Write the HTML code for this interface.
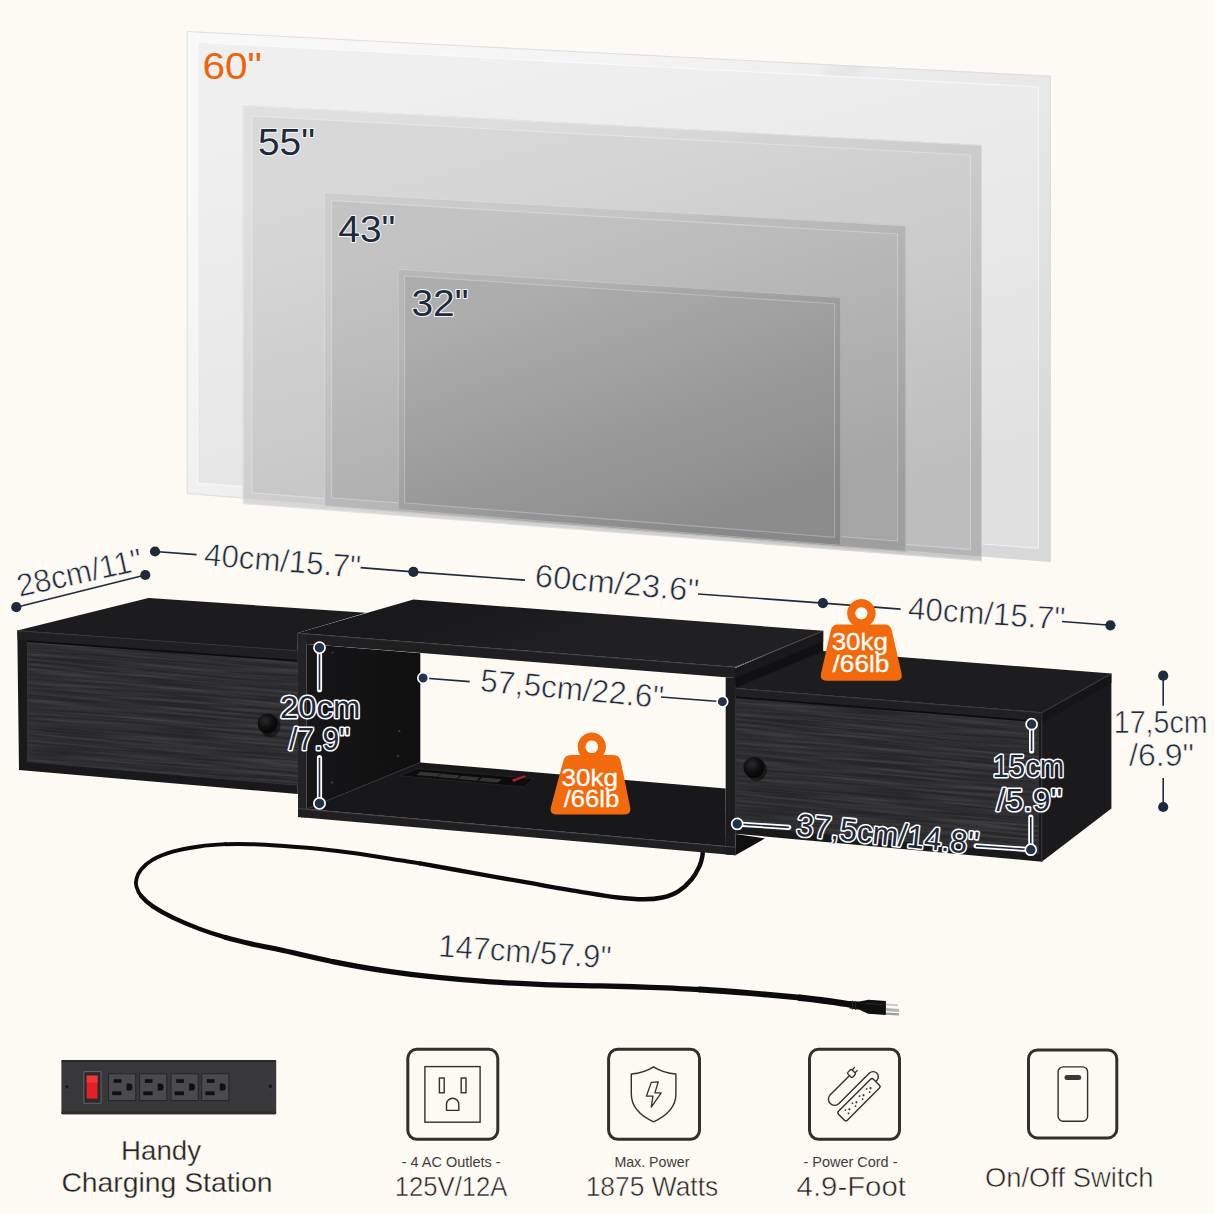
<!DOCTYPE html>
<html>
<head>
<meta charset="utf-8">
<title>TV stand dimensions</title>
<style>
html,body{margin:0;padding:0;background:#fdf9f3;}
body{width:1214px;height:1214px;overflow:hidden;font-family:"Liberation Sans",sans-serif;}
svg{display:block;}
text{font-family:"Liberation Sans",sans-serif;}
.dim{fill:#1e2b3c;font-size:32px;stroke:#fdf9f3;stroke-width:0.6px;}
.dimo{fill:#1e2b3c;font-size:32px;stroke:#fff;stroke-width:3.1px;paint-order:stroke;stroke-linejoin:round;}
.ln{stroke:#1e2b3c;stroke-width:1.6;fill:none;}
.dot{fill:#1e2b3c;}
.lno{stroke:#fff;stroke-width:5.2;fill:none;stroke-linecap:round;}
.doto{fill:#22324a;stroke:#fff;stroke-width:1.7;}
.ic{fill:none;stroke:#32302e;}
.cap{fill:#3f3d3a;font-size:15px;}
.big{fill:#262422;font-size:28.5px;stroke:#fdf9f3;stroke-width:0.55px;}
</style>
</head>
<body>
<svg width="1214" height="1214" viewBox="0 0 1214 1214">
<defs>
  <linearGradient id="g60" gradientUnits="userSpaceOnUse" x1="560" y1="50" x2="680" y2="540">
    <stop offset="0" stop-color="#efefef"/><stop offset="0.5" stop-color="#e9e9e9"/><stop offset="1" stop-color="#e0e0e0"/>
  </linearGradient>
  <linearGradient id="g55" gradientUnits="userSpaceOnUse" x1="560" y1="120" x2="680" y2="550">
    <stop offset="0" stop-color="#d8d8d8"/><stop offset="0.5" stop-color="#cbcbcb"/><stop offset="1" stop-color="#bdbdbd"/>
  </linearGradient>
  <linearGradient id="g43" gradientUnits="userSpaceOnUse" x1="560" y1="205" x2="670" y2="545">
    <stop offset="0" stop-color="#c3c3c3"/><stop offset="0.5" stop-color="#b4b4b4"/><stop offset="1" stop-color="#a5a5a5"/>
  </linearGradient>
  <linearGradient id="g32" gradientUnits="userSpaceOnUse" x1="570" y1="280" x2="660" y2="540">
    <stop offset="0" stop-color="#adadad"/><stop offset="0.5" stop-color="#9c9c9c"/><stop offset="1" stop-color="#8c8c8c"/>
  </linearGradient>
  <linearGradient id="gbz" gradientUnits="userSpaceOnUse" x1="250" y1="60" x2="980" y2="540">
    <stop offset="0" stop-color="#fff" stop-opacity="0.6"/><stop offset="0.55" stop-color="#fff" stop-opacity="0.12"/><stop offset="0.6" stop-color="#000" stop-opacity="0"/><stop offset="1" stop-color="#000" stop-opacity="0.035"/>
  </linearGradient>
  <linearGradient id="gbz2" gradientUnits="userSpaceOnUse" x1="300" y1="120" x2="950" y2="540">
    <stop offset="0" stop-color="#fff" stop-opacity="0.2"/><stop offset="0.5" stop-color="#fff" stop-opacity="0.03"/><stop offset="0.55" stop-color="#000" stop-opacity="0"/><stop offset="1" stop-color="#000" stop-opacity="0.05"/>
  </linearGradient>
  <clipPath id="c60"><polygon points="186.7,31 1050.8,75.8 1050.8,561.9 186.7,494"/></clipPath>
</defs>
<rect width="1214" height="1214" fill="#fdf9f3"/>

<!-- TVs -->
<g id="tvs">
  <polygon points="186.7,31 1050.8,75.8 1050.8,561.9 186.7,494" fill="url(#g60)"/>
  <path d="M186.7,31 L1050.8,75.8 L1050.8,561.9 L186.7,494 Z M198,42.5 L1038.4,87 L1038.4,548.3 L197.6,482.9 Z" fill="url(#gbz)" fill-rule="evenodd"/>
  <polygon points="198,42.5 1038.4,87 1038.4,548.3 197.6,482.9" fill="none" stroke="#fff" stroke-opacity="0.6" stroke-width="1.1"/>
  <polygon points="187.2,31.5 1050.3,76.3 1050.3,561.3 187.2,493.5" fill="none" stroke="#d9d9d9" stroke-opacity="0.8" stroke-width="1"/>

  <polygon points="242.8,105.1 982,145 982,561.2 242.8,503.9" fill="#d3d3d1"/>
  <g clip-path="url(#c60)">
    <polygon points="242.8,105.1 982,145 982,561.2 242.8,503.9" fill="url(#g55)"/>
  </g>
  <path d="M242.8,105.1 L982,145 L982,561.2 L242.8,503.9 Z M252,116 L970.5,155 L970.5,549.6 L252,492.7 Z" fill="url(#gbz2)" fill-rule="evenodd"/>
  <polygon points="252,116 970.5,155 970.5,549.6 252,492.7" fill="none" stroke="#fff" stroke-opacity="0.3" stroke-width="1.1"/>
  <polygon points="243.3,105.6 981.5,145.5 981.5,560.6 243.3,503.4" fill="none" stroke="#fff" stroke-opacity="0.3" stroke-width="1"/>

  <polygon points="324,192.1 906.3,225.3 906.3,552 324,506.3" fill="url(#g43)"/>
  <path d="M324,192.1 L906.3,225.3 L906.3,552 L324,506.3 Z M331.7,200.6 L897.6,234 L897.6,541 L331.7,497.7 Z" fill="url(#gbz2)" fill-rule="evenodd"/>
  <polygon points="331.7,200.6 897.6,234 897.6,541 331.7,497.7" fill="none" stroke="#fff" stroke-opacity="0.28" stroke-width="1.1"/>
  <polygon points="324.5,192.6 905.8,225.8 905.8,551.4 324.5,505.8" fill="none" stroke="#fff" stroke-opacity="0.3" stroke-width="1"/>

  <polygon points="397.7,268.7 841.2,297 841.2,545.9 397.7,510" fill="url(#g32)"/>
  <path d="M397.7,268.7 L841.2,297 L841.2,545.9 L397.7,510 Z M404.6,276 L834.6,303.8 L834.6,537.3 L404.6,502.8 Z" fill="url(#gbz2)" fill-rule="evenodd"/>
  <polygon points="404.6,276 834.6,303.8 834.6,537.3 404.6,502.8" fill="none" stroke="#fff" stroke-opacity="0.25" stroke-width="1.1"/>
  <polygon points="398.2,269.2 840.7,297.5 840.7,545.3 398.2,509.5" fill="none" stroke="#fff" stroke-opacity="0.28" stroke-width="1"/>
</g>
<g id="tvlabels" font-size="36.5px">
  <text x="202.5" y="79" fill="#ea650d" textLength="59.5" lengthAdjust="spacingAndGlyphs">60"</text>
  <text x="258" y="154.5" fill="#1e2b3c" stroke="#f6f6f6" stroke-width="2" paint-order="stroke" stroke-linejoin="round" textLength="57" lengthAdjust="spacingAndGlyphs">55"</text>
  <text x="338.3" y="241.6" fill="#1e2b3c" stroke="#f6f6f6" stroke-width="2" paint-order="stroke" stroke-linejoin="round" textLength="57" lengthAdjust="spacingAndGlyphs">43"</text>
  <text x="411.5" y="316" fill="#1e2b3c" stroke="#f6f6f6" stroke-width="2" paint-order="stroke" stroke-linejoin="round" textLength="57" lengthAdjust="spacingAndGlyphs">32"</text>
</g>

<!--CORD_START-->
<g id="cord" fill="none" stroke="#0b0b0c" stroke-linecap="round" stroke-linejoin="round">
  <path d="M702.8,848.0 C702.7,849.3 703.0,852.9 702.4,856.0 C701.8,859.1 701.2,862.5 699.4,866.4 C697.6,870.3 695.0,875.3 691.5,879.5 C688.0,883.7 683.1,888.4 678.3,891.4 C673.5,894.4 668.2,896.2 662.5,897.5 C656.8,898.8 651.5,899.3 644.0,899.3 C636.5,899.3 628.7,898.8 617.7,897.5 C606.7,896.2 593.5,893.9 578.1,891.4 C562.7,888.9 543.0,885.3 525.4,882.2 C507.8,879.1 490.3,876.0 472.7,872.9 C455.1,869.8 432.1,865.5 420.0,863.4" stroke-width="4.4"/>
  <path d="M420.0,863.4 C407.9,861.3 410.5,861.9 400.0,860.3 C389.5,858.7 370.3,855.5 357.0,853.6 C343.7,851.7 332.8,850.3 320.0,849.0 C307.2,847.7 291.4,846.6 280.0,845.8 C268.6,845.0 260.9,844.5 251.8,844.2 C242.7,843.9 234.2,843.8 225.4,844.2" stroke-width="4.0"/>
  <path d="M225.4,844.2 C216.6,844.6 207.9,845.2 199.1,846.5 C190.3,847.8 180.4,849.5 172.7,851.7 C165.0,853.9 158.2,856.7 152.9,859.7 C147.6,862.7 143.8,866.3 141.1,869.5 C138.4,872.7 137.3,875.9 136.5,878.8 C135.7,881.7 135.7,883.9 136.5,886.7 C137.3,889.6 138.4,892.6 141.1,895.9" stroke-width="3.8"/>
  <path d="M141.1,895.9 C143.8,899.2 147.6,902.8 152.9,906.4 C158.2,910.0 165.0,913.9 172.7,917.6 C180.4,921.3 190.3,925.5 199.1,928.8 C207.9,932.1 216.6,934.9 225.4,937.4" stroke-width="4.4"/>
  <path d="M225.4,937.4 C234.2,939.9 242.7,941.9 251.8,944.0 C260.9,946.1 266.5,946.9 280.0,949.8 C293.5,952.7 315.1,958.1 332.7,961.6" stroke-width="5.0"/>
  <path d="M332.7,961.6 C350.3,965.1 367.8,968.3 385.4,970.9 C403.0,973.5 420.5,975.6 438.1,977.4 C455.7,979.2 473.3,980.7 490.9,981.9 C508.5,983.1 525.4,983.9 543.6,984.6 C561.8,985.3 582.3,985.5 600.0,985.9 C617.7,986.3 633.3,986.7 650.0,987.3 C666.7,987.9 683.3,988.5 700.0,989.5" stroke-width="5.3"/>
  <path d="M700.0,989.5 C716.7,990.5 733.3,991.8 750.0,993.2 C766.7,994.6 787.2,996.4 800.0,997.7" stroke-width="5.8"/>
  <path d="M800.0,997.7 C812.8,999.0 818.5,999.9 827.0,1001.0 C835.5,1002.1 847.0,1004.0 851.0,1004.6" stroke-width="6.4"/>
  <!-- plug -->
  <path d="M849.7,1000.9 L859.5,1001.6 L868.5,999.8 L885.9,1001 L885.9,1015 L868,1013.8 L859.5,1009.8 L849.7,1008.4 Z" fill="#0f0f10" stroke="none"/>
  <path d="M852.5,1001 L852.5,1009.2 M855.5,1001.3 L855.5,1009.7" stroke="#2c2c2e" stroke-width="0.8"/>
  <path d="M866,1003.5 L884,1004.5" stroke="#2a2a2c" stroke-width="1.2"/>
  <path d="M886,1004.4 L898,1005.4" stroke="#c4c4c6" stroke-width="1.8" stroke-linecap="butt"/>
  <path d="M886,1009.6 L899,1010.6" stroke="#b4b4b6" stroke-width="3" stroke-linecap="butt"/>
  <path d="M886,1013.6 L899,1014.4" stroke="#9c9c9e" stroke-width="2.4" stroke-linecap="butt"/>
</g>
<!--CORD_END-->
<!--FURNITURE_START-->
<defs>
  <filter id="grain" x="0" y="0" width="100%" height="100%">
    <feTurbulence type="fractalNoise" baseFrequency="0.01 0.42" numOctaves="2" seed="7" result="n"/>
    <feColorMatrix in="n" type="matrix" values="0 0 0 0 0.07  0 0 0 0 0.07  0 0 0 0 0.08  1.5 0 0 0 -0.5"/>
    <feComposite in2="SourceGraphic" operator="in"/>
  </filter>
  <linearGradient id="gtop" x1="0" y1="0" x2="1" y2="0">
    <stop offset="0" stop-color="#1d1d1f"/><stop offset="1" stop-color="#19191b"/>
  </linearGradient>
  <clipPath id="cdl"><polygon points="27.5,641.3 297.8,661 297.8,785.3 27.7,761.6"/></clipPath><clipPath id="cdr"><polygon points="736,697.2 1038.5,721.6 1038.5,853.6 736,825.5"/></clipPath>
  <linearGradient id="gwall" x1="0" y1="0" x2="1" y2="0"><stop offset="0" stop-color="#161618"/><stop offset="1" stop-color="#0f0f10"/></linearGradient>
  <linearGradient id="gmt" gradientUnits="userSpaceOnUse" x1="500" y1="600" x2="520" y2="660"><stop offset="0" stop-color="#19191b"/><stop offset="1" stop-color="#202022"/></linearGradient>
  <radialGradient id="knob" cx="0.4" cy="0.35" r="0.7">
    <stop offset="0" stop-color="#2a2a2c"/><stop offset="0.6" stop-color="#0c0c0d"/><stop offset="1" stop-color="#050506"/>
  </radialGradient>
</defs>
<g id="furniture">
  <!-- LEFT CABINET -->
  <polygon points="17.3,630.5 148.5,598 366,612.8 297.8,633 297.8,651" fill="#1c1c1e"/>
  <polygon points="17.3,630.5 297.8,650.4 297.8,794 19,770" fill="#19191b"/>
  <polygon points="17.3,630.5 297.8,650.4 297.8,659.6 17.6,639.4" fill="#202022"/>
  <polygon points="27.5,641.3 297.8,661 297.8,785.3 27.7,761.6" fill="#262628"/>
  <g clip-path="url(#cdl)"><rect x="0" y="0" width="280" height="160" transform="matrix(1,0.08,0,1,24,625)" fill="#fff" filter="url(#grain)"/></g>
  <polyline points="17.3,630.8 297.8,650.7" fill="none" stroke="#3a3a3c" stroke-width="0.9"/>
  <polyline points="27.5,641.3 27.7,761.6 297.8,785.3" fill="none" stroke="#38383a" stroke-width="0.8"/>
  <polyline points="27.5,641.3 297.8,661" fill="none" stroke="#0c0c0d" stroke-width="1.6"/>
  <ellipse cx="270" cy="726" rx="10.5" ry="11" fill="#0a0a0b" opacity="0.6"/>
  <circle cx="267.5" cy="723.5" r="10" fill="url(#knob)"/>

  <!-- RIGHT CABINET -->
  <polygon points="735.2,688.1 823.2,651 1111.4,673.6 1041.8,712.4" fill="#1d1d1f"/>
  <polygon points="1041.8,712.4 1111.4,673.6 1111.4,808.4 1041.8,861.7" fill="#1a1a1c"/>
  <polygon points="735.2,688.1 1041.8,712.4 1041.8,861.7 735.2,833.7" fill="#19191b"/>
  <polygon points="735.2,688.1 1041.8,712.4 1041.8,721.2 735.2,696.6" fill="#202022"/>
  <polygon points="736,697.2 1038.5,721.6 1038.5,853.6 736,825.5" fill="#262628"/>
  <g clip-path="url(#cdr)"><rect x="0" y="0" width="310" height="170" transform="matrix(1,0.085,0,1,732,685)" fill="#fff" filter="url(#grain)"/></g>
  <polygon points="1041.8,712.4 1111.4,673.6 1111.4,683 1041.8,722.8" fill="#151517"/>
  <polyline points="735.2,688.4 1041.8,712.7 1111.4,673.9" fill="none" stroke="#3d3d3f" stroke-width="0.9"/>
  <polyline points="1041.8,712.4 1041.8,861.7" fill="none" stroke="#333335" stroke-width="1"/>
  <polyline points="1038.5,721.6 1038.5,853.6 736,825.5" fill="none" stroke="#343436" stroke-width="0.8"/>
  <polyline points="736,697.2 1034,721.2" fill="none" stroke="#0c0c0d" stroke-width="1.6"/>
  <ellipse cx="756.5" cy="770" rx="10.5" ry="11" fill="#0a0a0b" opacity="0.6"/>
  <circle cx="754" cy="767.5" r="10.5" fill="url(#knob)"/>

  <!-- MID SECTION -->
  <polygon points="734.2,668.7 823.2,630.8 823.2,651.5 735.2,688.5" fill="#111113"/>
  <polygon points="734.2,668.7 823.2,630.8 823.2,641.6 735.2,678" fill="#19191b"/>
  <polygon points="735.5,834 765,838.4 735.5,855.2" fill="#0f0f10"/>
  <!-- top surface -->
  <polygon points="297.8,633 413.4,599.5 823.2,630.8 735.2,667" fill="url(#gmt)"/>
  <!-- interior left wall -->
  <polygon points="306.7,644 420.3,653.3 420.3,762.4 306.7,809" fill="url(#gwall)"/>
  <!-- shelf -->
  <polygon points="306.7,809 420.3,762.4 725.6,788.5 725.9,846.2" fill="#18181a"/>
  <!-- shelf power strip -->
  <polygon points="399.3,775.8 417.5,768.7 534.2,778.6 523.8,786.9" fill="#0c0c0d" stroke="#2b2b2d" stroke-width="0.7"/>
  <polygon points="420.5,771.8 441,773.5 437,776.8 416.5,775" fill="#353537"/>
  <polygon points="441.5,773.8 460,775.4 456.5,778.8 437.5,777.1" fill="#353537"/>
  <polygon points="461.5,775.8 480,777.4 476.5,780.8 457.5,779.1" fill="#353537"/>
  <polygon points="482,777.5 501.5,779.2 498,782.6 478.5,780.9" fill="#353537"/>
  <polygon points="512,779.8 524.5,775.2 526,776.8 513.5,782" fill="#b3202a"/>
  <!-- screws on wall -->
  <circle cx="332.5" cy="652.5" r="1.1" fill="#3a3a3c"/><circle cx="399.3" cy="731" r="1.2" fill="#3a3a3c"/>
  <circle cx="332" cy="782.5" r="1.2" fill="#3a3a3c"/><circle cx="398" cy="756" r="1.2" fill="#3a3a3c"/>
  <!-- front frame: top slab, left panel, bottom slab, right panel -->
  <polygon points="297.8,633 735.2,667 735.2,678 297.8,643.2" fill="#1f1f21"/>
  <polygon points="298,633 306.7,633.7 306.7,817.6 298,816.9" fill="#232325"/>
  <polygon points="298,808.3 306.7,809 725.9,846.2 735.5,847 735.5,855.2 298,816.9" fill="#202022"/>
  <polygon points="725.7,677.2 735.5,678 735.5,855.2 725.7,854.4" fill="#1c1c1e"/>
  <polyline points="297.8,633.3 735.2,667.3 823.2,631.1" fill="none" stroke="#414143" stroke-width="0.9"/>
  <polyline points="298,808.6 735.5,847.3" fill="none" stroke="#48484a" stroke-width="0.9"/>
  <polyline points="306.7,809 420.3,762.4" fill="none" stroke="#303032" stroke-width="0.9"/>
  
</g>
<!--FURNITURE_END-->

<!--DIMS_START-->
<g id="dims">
<line class="ln" x1="16.3" y1="607.2" x2="145.3" y2="575.0"/>
<circle class="dot" cx="16.3" cy="607.2" r="5.1"/>
<circle class="dot" cx="145.3" cy="575.0" r="5.1"/>
<text class="dim" font-size="32px" transform="translate(19.5,596.9) rotate(-12.38)" textLength="127.4" lengthAdjust="spacingAndGlyphs">28cm/11&quot;</text>
<line class="ln" x1="155.0" y1="551.5" x2="196.5" y2="554.6"/>
<line class="ln" x1="360.6" y1="567.6" x2="413.4" y2="571.9"/>
<circle class="dot" cx="155.0" cy="551.5" r="5.1"/>
<circle class="dot" cx="413.4" cy="571.9" r="5.1"/>
<text class="dim" font-size="30px" transform="translate(203.5,565.3) rotate(4.57)" textLength="156.9" lengthAdjust="spacingAndGlyphs">40cm/15.7&quot;</text>
<line class="ln" x1="413.4" y1="571.9" x2="525.0" y2="580.1"/>
<line class="ln" x1="698.0" y1="594.0" x2="822.9" y2="603.1"/>
<circle class="dot" cx="822.9" cy="603.1" r="5.1"/>
<text class="dim" font-size="30px" transform="translate(534.1,586.3) rotate(5.30)" textLength="164.5" lengthAdjust="spacingAndGlyphs">60cm/23.6&quot;</text>
<line class="ln" x1="822.9" y1="603.1" x2="900.6" y2="609.1"/>
<line class="ln" x1="1061.9" y1="621.5" x2="1110.4" y2="625.3"/>
<circle class="dot" cx="1110.4" cy="625.3" r="5.1"/>
<text class="dim" font-size="30px" transform="translate(907.4,619.0) rotate(3.86)" textLength="157.3" lengthAdjust="spacingAndGlyphs">40cm/15.7&quot;</text>
<text class="dim" font-size="30px" transform="translate(437.7,956.5) rotate(3.97)" textLength="173.2" lengthAdjust="spacingAndGlyphs">147cm/57.9&quot;</text>
<line class="ln" x1="1163.2" y1="675.7" x2="1163.2" y2="705.7"/>
<line class="ln" x1="1163.2" y1="778.0" x2="1163.2" y2="807.0"/>
<circle class="dot" cx="1163.2" cy="675.7" r="5.1"/>
<circle class="dot" cx="1163.2" cy="807.0" r="5.1"/>
<text class="dim" font-size="30px" transform="translate(1113.8,733.0) rotate(0.00)" textLength="93.8" lengthAdjust="spacingAndGlyphs">17,5cm</text>
<text class="dim" font-size="30px" transform="translate(1129.1,766.1) rotate(0.00)" textLength="64.8" lengthAdjust="spacingAndGlyphs">/6.9&quot;</text>
<line class="ln" x1="423.1" y1="678.0" x2="469.7" y2="681.6"/>
<line class="ln" x1="661.0" y1="697.0" x2="722.4" y2="701.7"/>
<circle class="doto" cx="423.1" cy="678.0" r="5.3"/>
<circle class="doto" cx="722.4" cy="701.7" r="5.3"/>
<text class="dim" font-size="31px" transform="translate(479.5,691.0) rotate(5.37)" textLength="183.8" lengthAdjust="spacingAndGlyphs">57,5cm/22.6&quot;</text>
<line class="lno" x1="319.5" y1="654.0" x2="319.5" y2="689.7"/>
<line class="ln" x1="319.5" y1="654.0" x2="319.5" y2="689.7"/>
<line class="lno" x1="319.5" y1="757.7" x2="319.5" y2="798.4"/>
<line class="ln" x1="319.5" y1="757.7" x2="319.5" y2="798.4"/>
<circle class="doto" cx="319.5" cy="647.7" r="5.6"/>
<circle class="doto" cx="319.5" cy="803.4" r="5.6"/>
<text class="dimo" font-size="32px" transform="translate(280.0,717.5) rotate(0.00)" textLength="80.5" lengthAdjust="spacingAndGlyphs">20cm</text>
<text class="dimo" font-size="32px" transform="translate(289.0,750.0) rotate(0.00)" textLength="61.0" lengthAdjust="spacingAndGlyphs">/7.9&quot;</text>
<line class="lno" x1="1031.6" y1="730.0" x2="1031.6" y2="751.0"/>
<line class="ln" x1="1031.6" y1="730.0" x2="1031.6" y2="751.0"/>
<line class="lno" x1="1030.8" y1="817.0" x2="1030.8" y2="845.0"/>
<line class="ln" x1="1030.8" y1="817.0" x2="1030.8" y2="845.0"/>
<text class="dimo" font-size="31px" transform="translate(992.5,777.4) rotate(0.00)" textLength="71.8" lengthAdjust="spacingAndGlyphs">15cm</text>
<text class="dimo" font-size="31px" transform="translate(996.5,810.5) rotate(0.00)" textLength="65.7" lengthAdjust="spacingAndGlyphs">/5.9&quot;</text>
<line class="lno" x1="742.0" y1="824.3" x2="788.8" y2="827.4"/>
<line class="ln" x1="742.0" y1="824.3" x2="788.8" y2="827.4"/>
<line class="lno" x1="976.0" y1="845.9" x2="1026.0" y2="849.3"/>
<line class="ln" x1="976.0" y1="845.9" x2="1026.0" y2="849.3"/>
<circle class="doto" cx="737.2" cy="823.9" r="5.5"/>
<circle class="doto" cx="1030.8" cy="849.7" r="5.5"/>
<circle class="doto" cx="1031.6" cy="724.2" r="5.5"/>
<text class="dimo" font-size="31px" transform="translate(795.6,835.4) rotate(6.00)" textLength="182.8" lengthAdjust="spacingAndGlyphs">37,5cm/14.8&quot;</text>
</g>
<g id="weights">
  <!-- weight 1 (shelf) -->
  <g>
    <path d="M591.8,732.6 a14.2,14.2 0 1 1 -0.01,0 Z M591.8,740.5 a6.3,6.3 0 1 0 0.01,0 Z" fill="#f26a0b" fill-rule="evenodd"/>
    <path d="M571,755 L613,755 Q619.5,755 620.7,761 L630.2,807.5 Q631.5,814.5 624,814.5 L557,814.5 Q549.5,814.5 550.8,807.5 L563.3,761 Q564.5,755 571,755 Z" fill="#f26a0b"/>
    <text x="561.5" y="786" font-size="24px" fill="#fff" stroke="#fff" stroke-width="0.3" textLength="56.5" lengthAdjust="spacingAndGlyphs">30kg</text>
    <text x="563.7" y="807" font-size="24px" fill="#fff" stroke="#fff" stroke-width="0.3" textLength="55.6" lengthAdjust="spacingAndGlyphs">/66lb</text>
  </g>
  <!-- weight 2 (right cabinet) -->
  <g>
    <path d="M861.4,599 a14.3,14.3 0 1 1 -0.01,0 Z M861.4,607.2 a6.1,6.1 0 1 0 0.01,0 Z" fill="#f26a0b" fill-rule="evenodd"/>
    <path d="M838,624.6 L884.5,624.6 Q890.5,624.6 891.8,630.5 L901.6,673.8 Q903,680.8 895.8,680.8 L826.8,680.8 Q819.6,680.8 821,673.8 L830.8,630.5 Q832,624.6 838,624.6 Z" fill="#f26a0b"/>
    <text x="831.7" y="650.2" font-size="24px" fill="#fff" stroke="#fff" stroke-width="0.3" textLength="56.3" lengthAdjust="spacingAndGlyphs">30kg</text>
    <text x="832.6" y="671.6" font-size="24px" fill="#fff" stroke="#fff" stroke-width="0.3" textLength="56.8" lengthAdjust="spacingAndGlyphs">/66lb</text>
  </g>
</g>
<!--DIMS_END-->
<!--BOTTOM_START-->
<g id="bottom">
  <!-- power strip photo -->
  <rect x="61.4" y="1059.9" width="214.8" height="54.4" rx="1.6" fill="#38383a"/>
  <rect x="61.4" y="1059.9" width="214.8" height="2" rx="1" fill="#2a2a2c"/>
  <rect x="61.4" y="1111.5" width="214.8" height="2.8" rx="1" fill="#2c2c2e"/>
  <rect x="83.9" y="1071.7" width="17.1" height="31.5" fill="#2a2a2c" stroke="#707072" stroke-width="0.8"/>
  <rect x="86.7" y="1075.6" width="10.8" height="23" fill="#e61f26"/>
  <rect x="86.7" y="1075.6" width="10.8" height="7" fill="#f0353a"/>
  <g id="outl">
    <rect x="108.5" y="1073.8" width="27.2" height="26.8" fill="#4a4a4c" stroke="#262628" stroke-width="1"/>
    <rect x="113.7" y="1079.2" width="7.8" height="3.6" fill="#101011"/>
    <rect x="112.2" y="1091.4" width="9.3" height="3.8" fill="#101011"/>
    <path d="M126.6,1083.6 h2.6 a3.2,3.2 0 0 1 3.2,3.2 v0.6 a3.2,3.2 0 0 1 -3.2,3.2 h-2.6 Z" fill="#101011"/>
  </g>
  <use href="#outl" x="31.1"/>
  <use href="#outl" x="62.5"/>
  <use href="#outl" x="93.2"/>
  <circle cx="66.8" cy="1086.7" r="2.6" fill="#1c1c1e" stroke="#555557" stroke-width="0.6"/>
  <circle cx="270.2" cy="1086.2" r="2.6" fill="#1c1c1e" stroke="#555557" stroke-width="0.6"/>
  <text class="big" style="stroke-width:0.3px" x="121" y="1160" textLength="80" lengthAdjust="spacingAndGlyphs">Handy</text>
  <text class="big" style="stroke-width:0.3px" x="61.4" y="1191.6" textLength="211" lengthAdjust="spacingAndGlyphs">Charging Station</text>

  <!-- icon 1: outlet -->
  <rect class="ic" x="407.8" y="1049.3" width="90" height="90" rx="9" stroke-width="3"/>
  <rect class="ic" x="424.9" y="1066.6" width="55.2" height="55.6" stroke-width="1.4"/>
  <rect class="ic" x="439.4" y="1078" width="4.8" height="14.8" stroke-width="1.4"/>
  <rect class="ic" x="461.2" y="1078" width="4.8" height="14.8" stroke-width="1.4"/>
  <path class="ic" d="M446.5,1110.4 v-6 a6.15,6.15 0 0 1 12.3,0 v6 Z" stroke-width="1.4"/>
  <text class="cap" x="401.7" y="1167.4" textLength="99" lengthAdjust="spacingAndGlyphs">- 4 AC Outlets -</text>
  <text class="big" x="394.8" y="1196" textLength="112.7" lengthAdjust="spacingAndGlyphs">125V/12A</text>

  <!-- icon 2: shield -->
  <rect class="ic" x="608.6" y="1049.3" width="90.9" height="90" rx="9" stroke-width="3"/>
  <path class="ic" d="M653.6,1066.8 C647,1071 639,1073.4 631.3,1074 L631.3,1094 C631.3,1107 641,1116 653.6,1121.8 C666.2,1116 675.9,1107 675.9,1094 L675.9,1074 C668.2,1073.4 660.2,1071 653.6,1066.8 Z" stroke-width="1.4" stroke-linejoin="round"/>
  <path class="ic" d="M651.3,1082.4 L658.3,1081.8 L654.9,1092.9 L661.2,1092.9 L651.3,1107.1 L652.9,1096.2 L646.4,1096.2 Z" stroke-width="1.3" stroke-linejoin="round"/>
  <text class="cap" x="614.4" y="1167.4" textLength="75" lengthAdjust="spacingAndGlyphs">Max. Power</text>
  <text class="big" x="585.7" y="1196" textLength="132.5" lengthAdjust="spacingAndGlyphs">1875 Watts</text>

  <!-- icon 3: power cord -->
  <rect class="ic" x="809.5" y="1049.3" width="90" height="90" rx="9" stroke-width="3"/>
  <g transform="translate(858.95,1099.7) rotate(-45)">
    <rect class="ic" x="-24.7" y="-6.25" width="49.4" height="12.5" rx="2" stroke-width="1.4"/>
    <g fill="#3a3937">
      <circle cx="-17" cy="-2.2" r="0.9"/><circle cx="-17" cy="2.2" r="0.9"/><circle cx="-13.6" cy="0" r="1.1"/>
      <circle cx="-7" cy="-2.2" r="0.9"/><circle cx="-7" cy="2.2" r="0.9"/><circle cx="-3.6" cy="0" r="1.1"/>
      <circle cx="3" cy="-2.2" r="0.9"/><circle cx="3" cy="2.2" r="0.9"/><circle cx="6.4" cy="0" r="1.1"/>
      <circle cx="13" cy="-2.2" r="0.9"/><circle cx="13" cy="2.2" r="0.9"/><circle cx="16.4" cy="0" r="1.1"/>
    </g>
    <!-- cord: from strip right end, loop back -->
    <path class="ic" d="M24.7,-1 h1.5 a5.2,5.2 0 0 0 0,-10.4 h-43 a6.2,6.2 0 0 1 0,-12.4 h27" stroke-width="1.4"/>
    <rect class="ic" x="10.4" y="-27.2" width="5.8" height="6.8" rx="1.4" stroke-width="1.3"/>
    <path class="ic" d="M16.2,-25.8 h3.8 M16.2,-21.8 h3.8" stroke-width="1.3"/>
  </g>
  <text class="cap" x="803.5" y="1167.4" textLength="94" lengthAdjust="spacingAndGlyphs">- Power Cord -</text>
  <text class="big" x="796.6" y="1196" textLength="109.3" lengthAdjust="spacingAndGlyphs">4.9-Foot</text>

  <!-- icon 4: switch -->
  <rect class="ic" x="1028.5" y="1049.9" width="88.3" height="88" rx="9" stroke-width="3"/>
  <rect class="ic" x="1058.1" y="1066.9" width="29.5" height="54.3" rx="5" stroke-width="1.4"/>
  <rect x="1064.5" y="1075" width="16.7" height="5" rx="2.5" fill="#3a3937"/>
  <text class="big" x="984.9" y="1186.8" textLength="168.6" lengthAdjust="spacingAndGlyphs">On/Off Switch</text>
</g>
<!--BOTTOM_END-->
</svg>
</body>
</html>
